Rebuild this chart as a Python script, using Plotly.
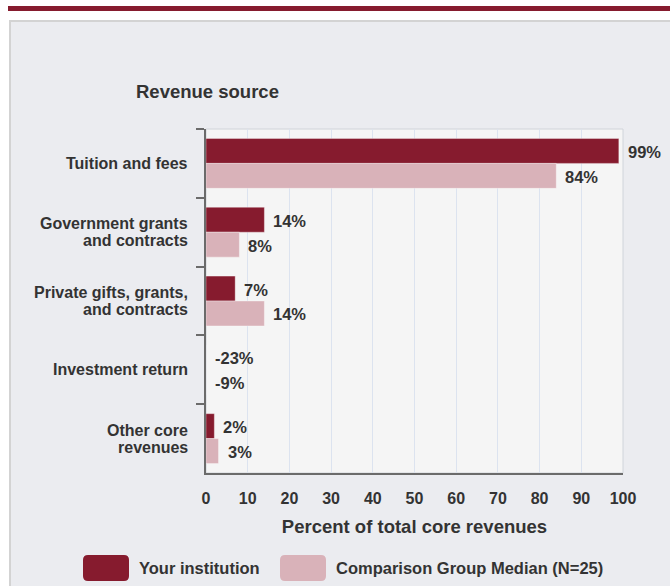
import plotly.graph_objects as go

categories = ["Tuition and fees", "Government grants<br>and contracts",
              "Private gifts, grants,<br>and contracts", "Investment return",
              "Other core<br>revenues"]
your_inst = [99, 14, 7, -23, 2]
comparison = [84, 8, 14, -9, 3]
series_names = ["Your institution", "Comparison Group Median (N=25)"]
x_ticks = [0, 10, 20, 30, 40, 50, 60, 70, 80, 90, 100]

DARK = "#861B2E"
LIGHT = "#D9B2B9"
TXT = "#333333"
FONT = "Liberation Sans, Arial, sans-serif"

W, H = 670, 586
L, R, T, B = 206, 47, 129, 113
PW, PH = W - L - R, H - T - B


def pxx(x):
    return (x - L) / PW


def pxy(y):
    return (H - B - y) / PH


fig = go.Figure()
for name, vals, col in [(series_names[0], your_inst, DARK), (series_names[1], comparison, LIGHT)]:
    fig.add_trace(go.Bar(
        y=categories, x=vals, name=name, orientation="h",
        marker=dict(color=col, line=dict(color="rgba(255,255,255,0.35)", width=1)),
        showlegend=False, cliponaxis=True,
    ))

shapes = []
annotations = []

# value labels
bar_px = PH / len(categories) * (1 - 0.275) / 2
for vals, sgn in [(your_inst, -1), (comparison, 1)]:
    for c, v in zip(categories, vals):
        annotations.append(dict(
            x=max(v, 0), y=c, xref="x", yref="y", text=f"<b>{v}%</b>",
            showarrow=False, xanchor="left", yanchor="middle",
            xshift=7, yshift=-sgn * bar_px / 2 - 1,
            font=dict(family=FONT, size=16.5, color=TXT),
        ))

# category labels (line by line for tighter spacing)
LINE_H = 17
for c in categories:
    lines = c.split("<br>")
    n = len(lines)
    for i, ln in enumerate(lines):
        annotations.append(dict(
            x=pxx(190), y=c, xref="paper", yref="y", text=f"<b>{ln}</b>",
            showarrow=False, xanchor="right", yanchor="middle",
            yshift=((n - 1) / 2 - i) * LINE_H,
            font=dict(family=FONT, size=16, color=TXT),
        ))

# page decorations
shapes.append(dict(type="rect", xref="paper", yref="paper", layer="below",
                   x0=pxx(10), x1=pxx(700), y0=pxy(21), y1=pxy(620),
                   fillcolor="#EBECF0", line=dict(color="#D3D3D3", width=2)))
shapes.append(dict(type="rect", xref="paper", yref="paper", layer="below",
                   x0=pxx(8), x1=pxx(672), y0=pxy(6), y1=pxy(11),
                   fillcolor=DARK, line=dict(width=0)))
# plot area background and border
shapes.append(dict(type="rect", xref="paper", yref="paper", layer="below",
                   x0=0, x1=1, y0=0, y1=1, fillcolor="#F5F5F5",
                   line=dict(color="#D0D4DA", width=1)))

# legend
def rrect(x0, y0, x1, y1, r, color):
    X = lambda v: pxx(v)
    Y = lambda v: pxy(v)
    path = (f"M {X(x0+r)},{Y(y0)} L {X(x1-r)},{Y(y0)} Q {X(x1)},{Y(y0)} {X(x1)},{Y(y0+r)} "
            f"L {X(x1)},{Y(y1-r)} Q {X(x1)},{Y(y1)} {X(x1-r)},{Y(y1)} "
            f"L {X(x0+r)},{Y(y1)} Q {X(x0)},{Y(y1)} {X(x0)},{Y(y1-r)} "
            f"L {X(x0)},{Y(y0+r)} Q {X(x0)},{Y(y0)} {X(x0+r)},{Y(y0)} Z")
    return dict(type="path", xref="paper", yref="paper", path=path,
                fillcolor=color, line=dict(width=0))

shapes.append(rrect(83, 555, 129, 581, 5, DARK))
shapes.append(rrect(280, 555, 326, 581, 5, LIGHT))
annotations.append(dict(x=pxx(137), y=pxy(568), xref="paper", yref="paper",
                        text=f"<b>{series_names[0]}</b>", showarrow=False,
                        xanchor="left", yanchor="middle",
                        font=dict(family=FONT, size=16.5, color=TXT)))
annotations.append(dict(x=pxx(334), y=pxy(568), xref="paper", yref="paper",
                        text=f"<b>{series_names[1]}</b>", showarrow=False,
                        xanchor="left", yanchor="middle",
                        font=dict(family=FONT, size=16.5, color=TXT)))
# y title
annotations.append(dict(x=pxx(134), y=pxy(91), xref="paper", yref="paper",
                        text="<b>Revenue source</b>", showarrow=False,
                        xanchor="left", yanchor="middle",
                        font=dict(family=FONT, size=18.5, color=TXT)))

fig.update_layout(
    width=W, height=H,
    margin=dict(l=L, r=R, t=T, b=B, pad=0),
    paper_bgcolor="white", plot_bgcolor="rgba(0,0,0,0)",
    barmode="group", bargap=0.275, bargroupgap=0,
    shapes=shapes, annotations=annotations,
    font=dict(family=FONT, color=TXT),
    xaxis=dict(range=[0, 100], tickvals=x_ticks,
               ticktext=[f"<b>{t}</b>" for t in x_ticks],
               tickfont=dict(size=16, color=TXT),
               showgrid=True, gridcolor="#DCE3EF", gridwidth=1,
               zeroline=False, showline=True, linecolor="#6B6B6B", linewidth=2,
               ticks="", ticklabelstandoff=10,
               title=dict(text="<b>Percent of total core revenues</b>",
                          font=dict(size=18.5, color=TXT), standoff=14),
               fixedrange=True),
    yaxis=dict(autorange="reversed", tickson="boundaries", ticks="outside",
               ticklen=8, tickwidth=2, tickcolor="#6B6B6B",
               showline=True, linecolor="#6B6B6B", linewidth=2,
               showticklabels=False,
               showgrid=False, fixedrange=True),
)

fig.write_html("out.html", config={"displayModeBar": False},
               post_script="document.body.style.margin='0px';document.body.style.overflow='hidden';")
